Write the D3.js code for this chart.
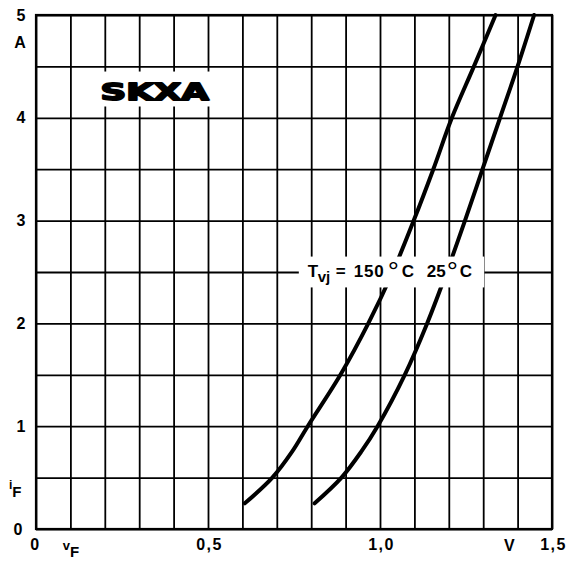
<!DOCTYPE html>
<html>
<head>
<meta charset="utf-8">
<script src="https://cdn.jsdelivr.net/npm/d3@7"></script>
<style>
  html, body { margin: 0; padding: 0; background: #fff; }
  svg text { font-family: "Liberation Sans", Arial, sans-serif; font-weight: bold; fill: #000; }
</style>
</head>
<body>
<svg id="chart" width="568" height="562"></svg>
<script>
// forward voltage v_F (V) vs forward current i_F (A)
const curve150V = [0.607, 0.687, 0.744, 0.79, 0.885, 0.966, 1.037, 1.098, 1.155, 1.209, 1.273, 1.336];
const curve150I = [0.25, 0.5, 0.75, 1.0, 1.5, 2.0, 2.5, 3.0, 3.5, 4.0, 4.5, 5.0];
const curve25V = [0.81, 0.888, 0.945, 0.993, 1.072, 1.137, 1.194, 1.247, 1.298, 1.349, 1.4, 1.448];
const curve25I = [0.25, 0.5, 0.75, 1.0, 1.5, 2.0, 2.5, 3.0, 3.5, 4.0, 4.5, 5.0];

const xTicks = [0, 0.5, 1.0, 1.5];
const xTickLabels = ['0', '0,5', '1,0', '1,5'];
const yTicks = [0, 1, 2, 3, 4, 5];
const yTickLabels = ['0', '1', '2', '3', '4', '5'];
const xGrid = d3.range(0, 16).map(i => i / 10);
const yGrid = d3.range(0, 11).map(i => i / 2);

const margin = { top: 15, right: 16, bottom: 33, left: 36 };
const width = 568 - margin.left - margin.right;
const height = 562 - margin.top - margin.bottom;

const svg = d3.select('#chart');
const g = svg.append('g')
  .attr('transform', `translate(${margin.left},${margin.top})`);

const x = d3.scaleLinear().domain([0, 1.5]).range([0, width]);
const y = d3.scaleLinear().domain([0, 5]).range([height, 0]);

// grid
const xGridAxis = g.append('g')
  .attr('transform', `translate(0,${height})`)
  .call(d3.axisBottom(x).tickValues(xGrid).tickSize(-height).tickFormat(''));
xGridAxis.select('.domain').remove();
xGridAxis.selectAll('.tick line').attr('stroke', '#000').attr('stroke-width', 1.8);

const yGridAxis = g.append('g')
  .call(d3.axisLeft(y).tickValues(yGrid).tickSize(-width).tickFormat(''));
yGridAxis.select('.domain').remove();
yGridAxis.selectAll('.tick line').attr('stroke', '#000').attr('stroke-width', 1.8);

g.append('rect')
  .attr('x', 0).attr('y', 0)
  .attr('width', width).attr('height', height)
  .attr('fill', 'none').attr('stroke', '#000').attr('stroke-width', 2.2);

// curves
const line = d3.line()
  .x(d => x(d[0]))
  .y(d => y(d[1]))
  .curve(d3.curveCatmullRom.alpha(0.5));

[[curve150V, curve150I], [curve25V, curve25I]].forEach(([vs, is]) => {
  g.append('path')
    .datum(d3.zip(vs, is))
    .attr('fill', 'none')
    .attr('stroke', '#000')
    .attr('stroke-width', 4)
    .attr('stroke-linecap', 'round')
    .attr('d', line);
});

// tick labels
const labelFont = sel => sel
  .style('font-size', '16px')
  .style('font-family', '"Liberation Sans", Arial, sans-serif')
  .style('font-weight', 'bold')
  .style('letter-spacing', '1.5px');

const xAxis = g.append('g')
  .attr('transform', `translate(0,${height})`)
  .call(d3.axisBottom(x).tickValues(xTicks).tickSize(0).tickPadding(10)
    .tickFormat((d, i) => xTickLabels[i]));
xAxis.select('.domain').remove();
xAxis.selectAll('text').call(labelFont).attr('dx', 1);
xAxis.selectAll('.tick').filter(d => d === 0).select('text').attr('dx', -1);

const yAxis = g.append('g')
  .call(d3.axisLeft(y).tickValues(yTicks).tickSize(0).tickPadding(9)
    .tickFormat((d, i) => yTickLabels[i]));
yAxis.select('.domain').remove();
yAxis.selectAll('text').call(labelFont);
yAxis.selectAll('.tick').filter(d => d === 0).select('text').attr('dx', -3);

// unit labels
g.append('text')
  .attr('x', -16).attr('y', y(4.72))
  .attr('text-anchor', 'middle').attr('dominant-baseline', 'middle')
  .style('font-size', '16px')
  .text('A');

const iLabel = g.append('text')
  .attr('x', -27).attr('y', y(0.37))
  .style('font-size', '15px');
iLabel.append('tspan').style('font-size', '12px').attr('dy', -2).text('i');
iLabel.append('tspan').attr('dy', 8).text('F');

const vLabel = g.append('text')
  .attr('x', x(0.078)).attr('y', height + 21)
  .style('font-size', '15px');
vLabel.append('tspan').style('font-size', '13px').text('v');
vLabel.append('tspan').attr('dy', 7).text('F');

g.append('text')
  .attr('x', x(1.376)).attr('y', height + 22)
  .attr('text-anchor', 'middle')
  .style('font-size', '16px')
  .text('V');

// SKXA badge
g.append('rect')
  .attr('x', x(0.15)).attr('y', y(4.45))
  .attr('width', x(0.55) - x(0.15)).attr('height', y(4.11) - y(4.45))
  .attr('fill', '#fff');
g.append('text')
  .attr('transform', `translate(${x(0.345)},${y(4.17)}) scale(1.55,1)`)
  .attr('text-anchor', 'middle')
  .style('font-size', '23px').style('font-weight', '900')
  .style('font-family', '"DejaVu Sans", sans-serif')
  .attr('stroke', '#000').attr('stroke-width', 1.8).attr('stroke-linejoin', 'round')
  .text('SKXA');

// temperature label
g.append('rect')
  .attr('x', x(0.764)).attr('y', y(2.65))
  .attr('width', x(1.303) - x(0.764)).attr('height', y(2.35) - y(2.65))
  .attr('fill', '#fff');
const tx = x(0.79);
const tLabel = g.append('text')
  .attr('x', tx).attr('y', y(2.45))
  .style('font-size', '17px');
tLabel.append('tspan').attr('x', tx).text('T');
tLabel.append('tspan').attr('x', tx + 10).attr('dy', 5).style('font-size', '15px').text('vj');
tLabel.append('tspan').attr('x', tx + 28).attr('dy', -5).text('=');
tLabel.append('tspan').attr('x', tx + 46).style('letter-spacing', '0.8px').text('150');
tLabel.append('tspan').attr('x', tx + 80).attr('dy', 4).style('font-size', '28px').style('font-weight', 'normal').text('°');
tLabel.append('tspan').attr('x', tx + 94).attr('dy', -4).text('C');
tLabel.append('tspan').attr('x', tx + 119).text('25');
tLabel.append('tspan').attr('x', tx + 139).attr('dy', 4).style('font-size', '28px').style('font-weight', 'normal').text('°');
tLabel.append('tspan').attr('x', tx + 152).attr('dy', -4).text('C');
</script>
</body>
</html>
